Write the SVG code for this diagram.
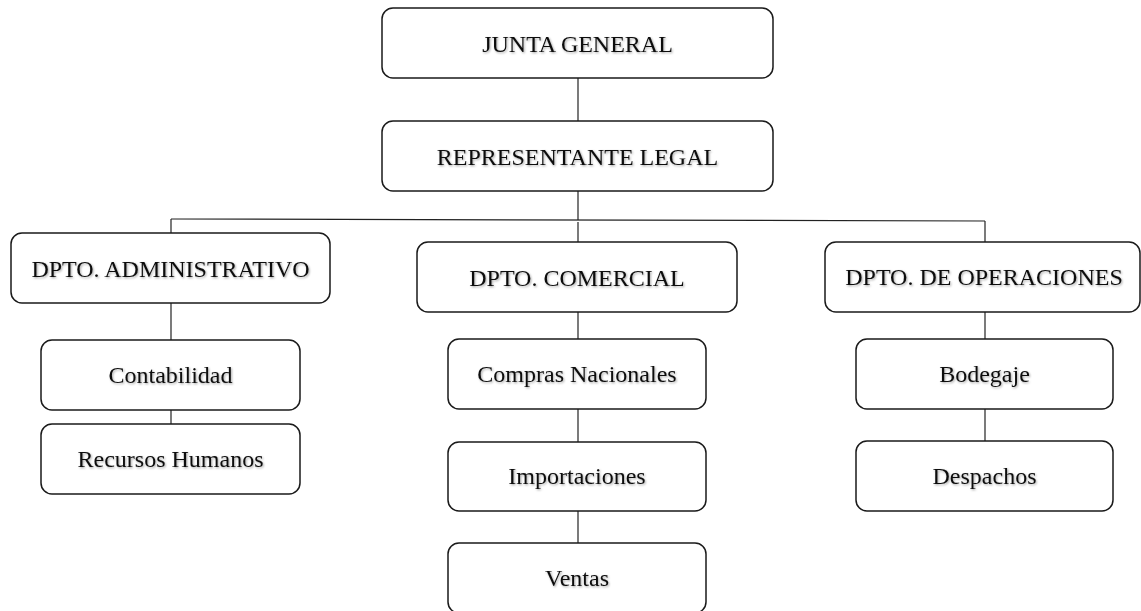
<svg xmlns="http://www.w3.org/2000/svg" width="1141" height="611" viewBox="0 0 1141 611">
<defs>
<style>
.box{fill:#fff;stroke:#1a1a1a;stroke-width:1.5}
.lbl{font-family:"Liberation Serif","Times New Roman",serif;font-size:24px;fill:#111;text-anchor:middle;filter:url(#sh)}
.con line{stroke:#222;stroke-width:1.2}
</style>
<filter id="sh" x="-10%" y="-30%" width="120%" height="160%">
<feDropShadow dx="1" dy="1.2" stdDeviation="0.8" flood-color="#000" flood-opacity="0.35"/>
</filter>
</defs>
<rect width="1141" height="611" fill="#fff"/>
<g class="con" id="connectors">
<line x1="578" y1="78" x2="578" y2="121"/>
<line x1="578" y1="191" x2="578" y2="220"/>
<line x1="171" y1="219" x2="985" y2="221"/>
<line x1="171" y1="219" x2="171" y2="233"/>
<line x1="578" y1="222" x2="578" y2="242"/>
<line x1="985" y1="221" x2="985" y2="242"/>
<line x1="171" y1="303" x2="171" y2="340"/>
<line x1="171" y1="410" x2="171" y2="424"/>
<line x1="578" y1="312" x2="578" y2="339"/>
<line x1="578" y1="409" x2="578" y2="442"/>
<line x1="578" y1="511" x2="578" y2="543"/>
<line x1="985" y1="312" x2="985" y2="339"/>
<line x1="985" y1="409" x2="985" y2="441"/>
</g>
<g id="junta"><rect class="box" x="382" y="8" width="391" height="70" rx="11"/><text class="lbl" x="577.5" y="52">JUNTA GENERAL</text></g>
<g id="representante"><rect class="box" x="382" y="121" width="391" height="70" rx="11"/><text class="lbl" x="577.5" y="165">REPRESENTANTE LEGAL</text></g>
<g id="admin"><rect class="box" x="11" y="233" width="319" height="70" rx="11"/><text class="lbl" x="170.5" y="277">DPTO. ADMINISTRATIVO</text></g>
<g id="comercial"><rect class="box" x="417" y="242" width="320" height="70" rx="11"/><text class="lbl" x="577" y="286">DPTO. COMERCIAL</text></g>
<g id="operaciones"><rect class="box" x="825" y="242" width="315" height="70" rx="11"/><text class="lbl" x="984" y="285">DPTO. DE OPERACIONES</text></g>
<g id="contabilidad"><rect class="box" x="41" y="340" width="259" height="70" rx="11"/><text class="lbl" x="170.5" y="383">Contabilidad</text></g>
<g id="recursos"><rect class="box" x="41" y="424" width="259" height="70" rx="11"/><text class="lbl" x="170.5" y="467">Recursos Humanos</text></g>
<g id="compras"><rect class="box" x="448" y="339" width="258" height="70" rx="11"/><text class="lbl" x="577" y="382">Compras Nacionales</text></g>
<g id="importaciones"><rect class="box" x="448" y="442" width="258" height="69" rx="11"/><text class="lbl" x="577" y="484">Importaciones</text></g>
<g id="ventas"><rect class="box" x="448" y="543" width="258" height="70" rx="11"/><text class="lbl" x="577" y="586">Ventas</text></g>
<g id="bodegaje"><rect class="box" x="856" y="339" width="257" height="70" rx="11"/><text class="lbl" x="984.5" y="382">Bodegaje</text></g>
<g id="despachos"><rect class="box" x="856" y="441" width="257" height="70" rx="11"/><text class="lbl" x="984.5" y="484">Despachos</text></g>
</svg>
